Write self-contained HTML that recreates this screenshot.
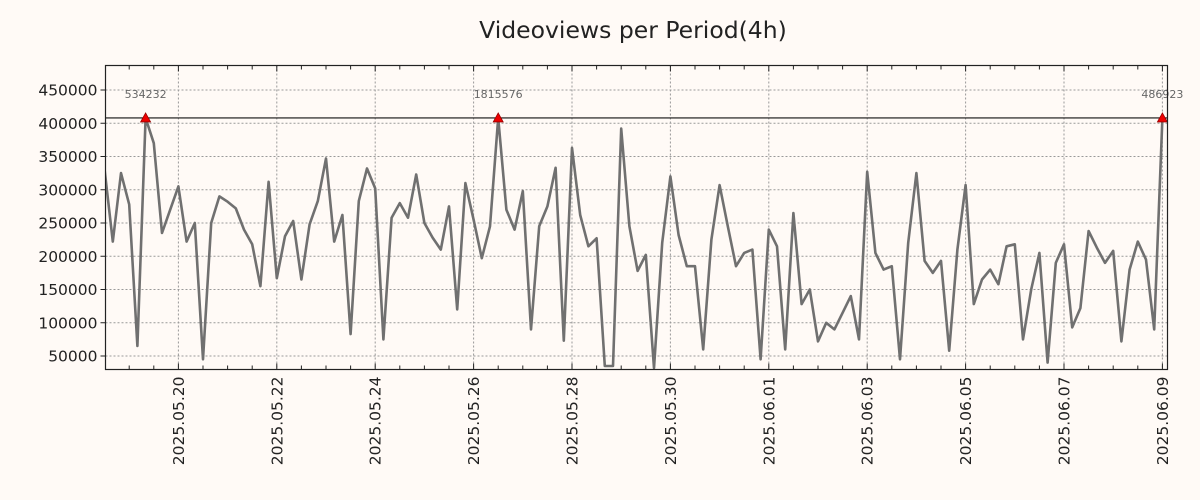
<!DOCTYPE html>
<html><head><meta charset="utf-8"><style>
body{margin:0;background:#fffaf6;}
svg{display:block;font-family:"DejaVu Sans","Liberation Sans",sans-serif;}
</style></head><body>
<svg id="chart" width="1200" height="500" viewBox="0 0 1200 500">
<rect x="0" y="0" width="1200" height="500" fill="#fffaf6"/>
<text x="633" y="38" font-size="23.5" text-anchor="middle" fill="#222">Videoviews per Period(4h)</text>
<g id="grid"></g>
<g id="series"></g>
<g id="axes"></g>
</svg>
<script>
const values = [330000,222000,325000,278000,65000,534232,370000,235000,270000,305000,
222000,250000,45000,250000,290000,282000,272000,240000,218000,155000,
312000,167000,230000,253000,165000,248000,283000,347000,222000,262000,
83000,283000,332000,302000,75000,258000,280000,258000,323000,250000,
228000,210000,275000,120000,310000,255000,197000,245000,1815576,270000,
240000,298000,90000,245000,275000,333000,73000,363000,262000,215000,
227000,35000,35000,392000,245000,178000,202000,32000,220000,320000,
232000,185000,185000,60000,225000,307000,245000,185000,205000,210000,
45000,240000,215000,60000,265000,128000,150000,72000,100000,90000,
115000,140000,75000,327000,205000,180000,185000,45000,220000,325000,
193000,175000,193000,58000,210000,307000,128000,165000,180000,158000,
215000,218000,75000,150000,205000,40000,190000,218000,93000,122000,
238000,213000,190000,208000,72000,180000,222000,195000,90000,486923];
const startDay = -1.5; // days relative to 2025.05.20 00:00
const stepDays = 4/24;
const yTicks = [50000,100000,150000,200000,250000,300000,350000,400000,450000];
const xTickLabels = ["2025.05.20","2025.05.22","2025.05.24","2025.05.26","2025.05.28","2025.05.30","2025.06.01","2025.06.03","2025.06.05","2025.06.07","2025.06.09"];
const capValue = 408000;

const L=105.5,R=1167.5,T=65.5,B=369.5;
const sx = d => 178.4 + d*49.2;
const sy = v => 356 - (v-50000)*(33.25/50000);
const NS='http://www.w3.org/2000/svg';
function mk(tag,attrs,parent){const e=document.createElementNS(NS,tag);for(const k in attrs)e.setAttribute(k,attrs[k]);parent.appendChild(e);return e;}
const grid=document.getElementById('grid'),series=document.getElementById('series'),axes=document.getElementById('axes');

yTicks.forEach(v=>{
  const y=sy(v);
  const g=mk('line',{x1:L,x2:R,y1:y,y2:y,stroke:'#999','stroke-dasharray':'2,2','stroke-width':1},grid);
  
  
  const t=mk('line',{x1:L-5,x2:L,y1:y,y2:y,stroke:'#222'},axes);
  
  
  const tx=mk('text',{x:L-8,y:y+5.5,'font-size':15.5,'text-anchor':'end',fill:'#222'},axes);
  tx.textContent=v;
  
  
});
xTickLabels.forEach((lab,i)=>{
  const x=sx(i*2);
  const g=mk('line',{x1:x,x2:x,y1:T,y2:B,stroke:'#999','stroke-dasharray':'2,2','stroke-width':1},grid);
  
  
  const tx=mk('text',{x:0,y:0,'font-size':15.5,'text-anchor':'end',fill:'#222',transform:`translate(${x+5.5},${B+7}) rotate(-90)`},axes);
  tx.textContent=lab;
  
  
});
for(let d=-1.5;d<=21.2;d+=0.5){
  const x=sx(d); if(x<L||x>R)continue;
  const major=Math.abs(d/2-Math.round(d/2))<1e-6;
  const len=major?6:4;
  const a=mk('line',{x1:x,x2:x,y1:B,y2:B-len,stroke:'#222'},axes);
  
  
  const b=mk('line',{x1:x,x2:x,y1:T,y2:T+len,stroke:'#222'},axes);
  
  
}
const capY=sy(capValue);
const hl=mk('line',{x1:L,x2:R,y1:capY,y2:capY,stroke:'#111','stroke-width':1.2},series);


let pts=values.map((v,i)=>`${sx(startDay+i*stepDays).toFixed(1)},${sy(Math.min(v,capValue)).toFixed(1)}`).join(' ');
const clip=mk('clipPath',{id:'pc'},series);mk('rect',{x:L,y:T,width:R-L,height:B-T},clip);
const pl=mk('polyline',{points:pts,fill:'none',stroke:'#707070','stroke-width':2.6,'stroke-linejoin':'round','clip-path':'url(#pc)'},series);


values.forEach((v,i)=>{
  if(v<=capValue)return;
  const x=sx(startDay+i*stepDays);
  const m=mk('polygon',{points:`${x-5},${capY+4} ${x+5},${capY+4} ${x},${capY-5}`,fill:'#ee0000',stroke:'#900','stroke-width':0.8},series);
  
  
  const t=mk('text',{x:x,y:capY-20,'font-size':11,'text-anchor':'middle',fill:'#666'},series);
  t.textContent=v;
  
  
});
const fr=mk('rect',{x:L,y:T,width:R-L,height:B-T,fill:'none',stroke:'#222','stroke-width':1.2},axes);


</script>
</body></html>
